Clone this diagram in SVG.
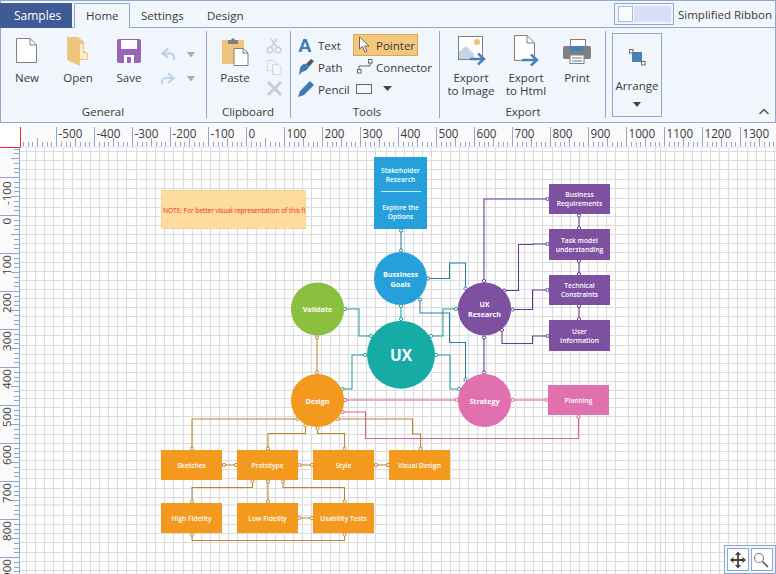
<svg xmlns="http://www.w3.org/2000/svg" width="776" height="574" viewBox="0 0 776 574">
<style>
text{font-family:"Open Sans","Noto Sans","Liberation Sans",sans-serif}
.rb{font-size:11.5px;fill:#3a3a3a}
.m{text-anchor:middle}
.rl{font-size:11.7px;fill:#3a3a3a}
.vl{font-size:11.6px;fill:#3a3a3a;font-family:"Liberation Sans",sans-serif}
.n{font-size:6.7px;fill:#fff;text-anchor:middle;font-weight:600}
.b{font-size:7.2px;fill:#fff;text-anchor:middle;font-weight:700}
.sep{stroke:#8fa6cf;stroke-width:1;fill:none}
.grid{stroke:#dcdcdc;stroke-width:1.2;fill:none}
.blue{fill:#26a0da}.purple{fill:#7d50a0}.pink{fill:#e070ae}.orange{fill:#f39a1e}
#connectors path{fill:none;stroke-width:1.05}
.cb{stroke:#2a7f9c}.ct{stroke:#1f9f9d}.cp{stroke:#67379a}.co{stroke:#bf8430}.cn{stroke:#d5609a}
.cb{marker-start:url(#mb);marker-end:url(#mb)}
.ct{marker-start:url(#mt);marker-end:url(#mt)}
.cp{marker-start:url(#mp);marker-end:url(#mp)}
.co{marker-start:url(#mo);marker-end:url(#mo)}
.cn{marker-start:url(#mn);marker-end:url(#mn)}
</style>
<defs>
<marker id="mb" markerUnits="userSpaceOnUse" markerWidth="6" markerHeight="6" refX="3" refY="3"><circle cx="3" cy="3" r="1.6" fill="#fff" stroke="#2a7f9c"/></marker>
<marker id="mt" markerUnits="userSpaceOnUse" markerWidth="6" markerHeight="6" refX="3" refY="3"><circle cx="3" cy="3" r="1.6" fill="#fff" stroke="#1f9f9d"/></marker>
<marker id="mp" markerUnits="userSpaceOnUse" markerWidth="6" markerHeight="6" refX="3" refY="3"><circle cx="3" cy="3" r="1.6" fill="#fff" stroke="#67379a"/></marker>
<marker id="mo" markerUnits="userSpaceOnUse" markerWidth="6" markerHeight="6" refX="3" refY="3"><circle cx="3" cy="3" r="1.6" fill="#fff" stroke="#bf8430"/></marker>
<marker id="mn" markerUnits="userSpaceOnUse" markerWidth="6" markerHeight="6" refX="3" refY="3"><circle cx="3" cy="3" r="1.6" fill="#fff" stroke="#d5609a"/></marker>
<pattern id="hticks" patternUnits="userSpaceOnUse" x="18" y="127" width="38" height="20">
<path d="M.5 0V20M5.5 15V20M10.5 15V20M14.5 15V20M19.5 11V20M24.5 15V20M29.5 15V20M33.5 15V20" stroke="#8fa6cf" fill="none"/>
</pattern>
<pattern id="vticks" patternUnits="userSpaceOnUse" x="0" y="25" width="20" height="38">
<path d="M0 .5H20M14 5.5H20M14 10.5H20M14 14.5H20M11 19.5H20M14 24.5H20M14 29.5H20M14 33.5H20" stroke="#8fa6cf" fill="none"/>
</pattern>
</defs>

<rect width="776" height="574" fill="#fff"/>

<g id="grid">
<path class="grid" d="M26.5 148V574M35.5 148V574M44.5 148V574M53.5 148V574M63.5 148V574M72.5 148V574M81.5 148V574M90.5 148V574M99.5 148V574M108.5 148V574M117.5 148V574M126.5 148V574M136.5 148V574M146.5 148V574M155.5 148V574M164.5 148V574M173.5 148V574M183.5 148V574M192.5 148V574M201.5 148V574M210.5 148V574M219.5 148V574M228.5 148V574M237.5 148V574M247.5 148V574M256.5 148V574M266.5 148V574M275.5 148V574M284.5 148V574M293.5 148V574M302.5 148V574M311.5 148V574M321.5 148V574M330.5 148V574M339.5 148V574M348.5 148V574M357.5 148V574M366.5 148V574M375.5 148V574M386.5 148V574M395.5 148V574M404.5 148V574M413.5 148V574M422.5 148V574M431.5 148V574M441.5 148V574M450.5 148V574M459.5 148V574M468.5 148V574M477.5 148V574M486.5 148V574M495.5 148V574M506.5 148V574M515.5 148V574M524.5 148V574M533.5 148V574M542.5 148V574M552.5 148V574M561.5 148V574M570.5 148V574M579.5 148V574M588.5 148V574M597.5 148V574M606.5 148V574M615.5 148V574M628.5 148V574M637.5 148V574M646.5 148V574M655.5 148V574M660.5 148V574M665.5 148V574M674.5 148V574M683.5 148V574M692.5 148V574M701.5 148V574M710.5 148V574M719.5 148V574M728.5 148V574M737.5 148V574M747.5 148V574M756.5 148V574M765.5 148V574M774.5 148V574"/>
<path class="grid" d="M20 151.5H776M20 160.5H776M20 169.5H776M20 179.5H776M20 188.5H776M20 198.5H776M20 207.5H776M20 216.5H776M20 225.5H776M20 234.5H776M20 243.5H776M20 252.5H776M20 262.5H776M20 271.5H776M20 280.5H776M20 289.5H776M20 298.5H776M20 307.5H776M20 316.5H776M20 326.5H776M20 335.5H776M20 345.5H776M20 354.5H776M20 363.5H776M20 372.5H776M20 381.5H776M20 390.5H776M20 398.5H776M20 407.5H776M20 416.5H776M20 425.5H776M20 434.5H776M20 443.5H776M20 451.5H776M20 460.5H776M20 469.5H776M20 478.5H776M20 488.5H776M20 497.5H776M20 505H776M20 515.5H776M20 524.5H776M20 533.5H776M20 542.5H776M20 552.5H776M20 561.5H776M20 570.5H776"/>
</g>

<g id="rulers">
<rect x="0" y="123" width="776" height="24" fill="#fafafa"/>
<rect x="0" y="123" width="20" height="24" fill="#fff"/>
<rect x="0" y="148" width="20" height="426" fill="#fafafa"/>
<rect x="21" y="127" width="755" height="20" fill="url(#hticks)"/>
<rect x="0" y="148" width="20" height="426" fill="url(#vticks)"/>
<path d="M21 147H776" stroke="#dde4f0"/>
<path d="M19.5 148V574" stroke="#8fa6cf"/>
<path d="M20.5 127V147.5H0" stroke="#f03030" fill="none"/>
<g class="rl">
<text x="58.5" y="138">-500</text><text x="96.5" y="138">-400</text><text x="134.5" y="138">-300</text><text x="172.5" y="138">-200</text><text x="210.5" y="138">-100</text><text x="248.5" y="138">0</text><text x="286.5" y="138">100</text><text x="324.5" y="138">200</text><text x="362.5" y="138">300</text><text x="400.5" y="138">400</text><text x="438.5" y="138">500</text><text x="476.5" y="138">600</text><text x="514.5" y="138">700</text><text x="552.5" y="138">800</text><text x="590.5" y="138">900</text><text x="628.5" y="138">1000</text><text x="666.5" y="138">1100</text><text x="704.5" y="138">1200</text><text x="742.5" y="138">1300</text>
</g>
<g class="vl">
<text transform="translate(10.5,205) rotate(-90)">-100</text>
<text transform="translate(10.5,224.5) rotate(-90)">0</text>
<text transform="translate(10.5,275) rotate(-90)">100</text>
<text transform="translate(10.5,313) rotate(-90)">200</text>
<text transform="translate(10.5,351) rotate(-90)">300</text>
<text transform="translate(10.5,389) rotate(-90)">400</text>
<text transform="translate(10.5,427) rotate(-90)">500</text>
<text transform="translate(10.5,465) rotate(-90)">600</text>
<text transform="translate(10.5,503) rotate(-90)">700</text>
<text transform="translate(10.5,541) rotate(-90)">800</text>
<text transform="translate(10.5,579) rotate(-90)">900</text>
</g>
</g>

<g id="connectors">
<path class="cb" d="M401 230.5V250.5"/>
<path class="cb" d="M428 278.5H449.5V263H465.5V288.5"/>
<path class="cb" d="M420 299.5V313H449.5V342.5H465.5V379.5"/>
<path class="ct" d="M401 306V319"/>
<path class="ct" d="M345 309H359V336H371"/>
<path class="ct" d="M431 336H443V309H456"/>
<path class="ct" d="M342.5 389H352V355H365"/>
<path class="ct" d="M436 355H450V389H459"/>
<path class="cp" d="M484 281V199H547.5"/>
<path class="cp" d="M504 290.5H518.5V244.5H533V244H547.5"/>
<path class="cp" d="M512.5 309.5H532.5V290H547.5"/>
<path class="cp" d="M502 330V343.5H532.5V336H547.5"/>
<path class="cp" d="M579 215.5V228"/>
<path class="cp" d="M579 261V274"/>
<path class="cp" d="M579 306V319"/>
<path class="cp" d="M484 337.5V372.5"/>
<path class="co" d="M317 337.5V372.5"/>
<path class="cn" d="M345 400H456.5"/>
<path class="cn" d="M512.5 400H546.5"/>
<path class="cn" d="M342.5 412H365.5V438.5H578.5V417"/>
<path class="co" d="M297.5 419H192V448.5"/>
<path class="co" d="M305.5 425.5V433.5H268V448.5"/>
<path class="co" d="M317.5 428.5V433.5H344.5V448.5"/>
<path class="co" d="M337.5 419H412.5V434H420.5V448.5"/>
<path class="co" d="M224 465H236"/>
<path class="co" d="M299.5 465H312"/>
<path class="co" d="M376 465H388"/>
<path class="co" d="M252.5 481.5V487.5H192V501.5"/>
<path class="co" d="M268 481.5V501.5"/>
<path class="co" d="M283 481.5V487.5H344.5V501.5"/>
<path class="co" d="M299.5 518H312"/>
<path class="co" d="M192 534.5V540.5H344.5V534.5"/>
</g>

<g id="note">
<rect x="161.5" y="190.5" width="144" height="38" fill="#fedb9e" stroke="#f5c878" stroke-dasharray="2 1"/>
<text x="163" y="213" font-size="6.7" fill="#f02828" textLength="142.5" lengthAdjust="spacing">NOTE: For better visual representation of this fi</text>
</g>

<g id="stakeholder">
<rect class="blue" x="374" y="157" width="53" height="72"/>
<path d="M381 191.5H421" stroke="#cfeaf7"/>
<text class="n" x="400.5" y="173">Stakeholder</text><text class="n" x="400.5" y="182">Research</text>
<text class="n" x="400.5" y="210">Explore the</text><text class="n" x="400.5" y="219">Options</text>
</g>
<g id="goals"><circle class="blue" cx="400.5" cy="278.5" r="26.5"/><text class="b" x="400.5" y="277">Bussiness</text><text class="b" x="400.5" y="287">Goals</text></g>
<g id="ux"><circle cx="401" cy="354.7" r="34" fill="#16aba5"/><text x="401" y="360.5" font-size="15.5" font-weight="700" fill="#fff" text-anchor="middle">UX</text></g>
<g id="validate"><circle cx="317.5" cy="309" r="26.6" fill="#8ac03e"/><text class="b" x="317.5" y="312">Validate</text></g>
<g id="uxresearch"><circle class="purple" cx="484.5" cy="309" r="26.6"/><text class="b" x="484.5" y="307">UX</text><text class="b" x="484.5" y="317">Research</text></g>
<g id="design"><circle class="orange" cx="317.5" cy="400.5" r="26.6"/><text class="b" x="317.5" y="403.5">Design</text></g>
<g id="strategy"><circle class="pink" cx="484.5" cy="400.5" r="26.6"/><text class="b" x="484.5" y="403.5">Strategy</text></g>
<g id="planning"><rect class="pink" x="548" y="385" width="61" height="30"/><text class="n" x="578.5" y="403">Planning</text></g>
<g id="business"><rect class="purple" x="549" y="184" width="61" height="30"/><text class="n" x="579.5" y="197">Business</text><text class="n" x="579.5" y="206">Requirements</text></g>
<g id="task"><rect class="purple" x="549" y="229" width="61" height="31"/><text class="n" x="579.5" y="243">Task model</text><text class="n" x="579.5" y="252">understanding</text></g>
<g id="technical"><rect class="purple" x="549" y="275" width="61" height="30"/><text class="n" x="579.5" y="288">Technical</text><text class="n" x="579.5" y="297">Constraints</text></g>
<g id="user"><rect class="purple" x="549" y="320" width="61" height="31"/><text class="n" x="579.5" y="334">User</text><text class="n" x="579.5" y="343">Information</text></g>
<g id="sketches"><rect class="orange" x="161" y="450" width="61" height="30"/><text class="n" x="191.5" y="467.5">Sketches</text></g>
<g id="prototype"><rect class="orange" x="237" y="450" width="61" height="30"/><text class="n" x="267.5" y="467.5">Prototype</text></g>
<g id="style"><rect class="orange" x="313" y="450" width="61" height="30"/><text class="n" x="343.5" y="467.5">Style</text></g>
<g id="visual"><rect class="orange" x="389" y="450" width="61" height="30"/><text class="n" x="419.5" y="467.5">Visual Design</text></g>
<g id="high"><rect class="orange" x="161" y="503" width="61" height="30"/><text class="n" x="191.5" y="520.5">High Fidelity</text></g>
<g id="low"><rect class="orange" x="237" y="503" width="61" height="30"/><text class="n" x="267.5" y="520.5">Low Fidelity</text></g>
<g id="usability"><rect class="orange" x="313" y="503" width="61" height="30"/><text class="n" x="343.5" y="520.5">Usability Tests</text></g>

<g id="ribbon">
<rect x="0" y="0" width="776" height="123" fill="#f1f5fc"/>
<path d="M0 .5H776M.5 0V122M775.5 0V122M0 122.5H776" class="sep"/>
<path d="M0 27.5H74.5V3.5H129.5V27.5H776" fill="#f1f5fc" stroke="#8fa6cf"/>
<rect x="0" y="3" width="72" height="25" fill="#3f5a94"/>
<text x="14" y="20" font-size="12" fill="#fff">Samples</text>
<text class="rb" x="86" y="20">Home</text><text class="rb" x="141" y="20">Settings</text><text class="rb" x="207" y="20">Design</text>
<path class="sep" d="M206.5 31V118M290.5 31V118M439.5 31V118M605.5 31V118"/>
<rect x="614.5" y="3.5" width="59" height="21" fill="#f1f5fc" stroke="#8fa6cf"/>
<rect x="618.5" y="6.5" width="14" height="15" fill="#f8fafe" stroke="#a8bbdc"/>
<rect x="634" y="6" width="37" height="16" fill="#d8e0f7"/>
<text class="rb" x="678" y="19">Simplified Ribbon</text>

<g class="rb">
<text class="m" x="27" y="82">New</text><text class="m" x="78" y="82">Open</text><text class="m" x="129" y="82">Save</text>
<text class="m" x="235" y="82">Paste</text>
<text x="318" y="50">Text</text><text x="318" y="72">Path</text><text x="318" y="94">Pencil</text>
<text class="m" x="471" y="82">Export</text><text class="m" x="471" y="95">to Image</text>
<text class="m" x="526" y="82">Export</text><text class="m" x="526" y="95">to Html</text>
<text class="m" x="577" y="82">Print</text>
<text class="m" x="637" y="90">Arrange</text>
<text class="m" x="103" y="116">General</text><text class="m" x="248" y="116">Clipboard</text><text class="m" x="367" y="116">Tools</text><text class="m" x="523" y="116">Export</text>
</g>

<path d="M16.5 38.5H30L36.5 45V62.5H16.5Z" fill="#fff" stroke="#808080"/><path d="M30 38.5V45H36.5" fill="none" stroke="#808080"/>
<path d="M67 37H78L84 42V51L88 53V60H80V66L67 60Z" fill="#efc47c"/><path d="M80 44H83V53H87V59H80Z" fill="#f8ecd2"/>
<rect x="117" y="39" width="24" height="24" rx="2" fill="#9a65b5"/><rect x="121" y="40" width="16" height="9" fill="#fff"/><rect x="124" y="55" width="10" height="8" fill="#fff"/><rect x="127" y="57" width="4" height="6" fill="#9a65b5"/>
<path d="M168 48.5L162.5 53.5L168 57.5M163 53.5H170Q175 54 174 60" fill="none" stroke="#bdd2e9" stroke-width="2.2"/>
<path d="M168 73.5L173.5 78L168 83M173 78H166Q161 78.5 162 84" fill="none" stroke="#bdd2e9" stroke-width="2.2"/>
<path d="M187 52H195L191 57.5ZM187 76H195L191 81.5Z" fill="#a6acb4"/>

<rect x="222" y="40" width="22" height="24" fill="#efc47c"/><path d="M228 44V40H231Q233 36 235 40H238V44Z" fill="#808080"/>
<path d="M234 48.5H243L248 53V65.5H234Z" fill="#fff" stroke="#808080"/><path d="M243 48.5V53H248" fill="none" stroke="#808080"/>
<g fill="none" stroke="#c3d3e6" stroke-width="1.6"><circle cx="270" cy="50" r="2.8"/><circle cx="278" cy="50" r="2.8"/><path d="M271 47L277 39M277 47L271 39"/></g>
<g fill="#f3f6fb" stroke="#ccd8e8"><path d="M267.5 60.5H274L276 62.5V70.5H267.5Z"/><path d="M272.5 64.5H278L281 67V74.5H272.5Z"/></g>
<path d="M268 82L281 95M281 82L268 95" stroke="#c8ccd2" stroke-width="3"/>

<text x="298" y="52" font-size="19" font-weight="700" fill="#3f7ab5" style="font-family:'Liberation Sans',sans-serif">A</text>
<path d="M300 68Q303 63 306 64L309 67Q307 71 302 72L299 75Z" fill="#3f7ab5"/><path d="M306 64L311 59L314 61L309 67Z" fill="#555"/>
<path d="M298 97L300 91L310 81L314 85L304 95Z" fill="#3f7ab5"/>
<rect x="353.5" y="34.5" width="64" height="21" fill="#f3c77e" stroke="#d9a94f"/>
<text class="rb" x="376" y="50">Pointer</text>
<path d="M359.5 37V49L362.5 46.5L365 52L367 51L364.5 46H369Z" fill="#fff" stroke="#666"/>
<text class="rb" x="376" y="72">Connector</text>
<path d="M359 69V66H370V63" fill="none" stroke="#666"/><rect x="368.5" y="59.5" width="3.5" height="3.5" fill="#fff" stroke="#666"/><rect x="357.5" y="69.5" width="3.5" height="3.5" fill="#fff" stroke="#666"/>
<rect x="356.5" y="84.5" width="15" height="9" fill="#f8f8f8" stroke="#666"/>
<path d="M383 86H392L387.5 91Z" fill="#444"/>

<rect x="458.5" y="36.5" width="24" height="23" fill="#fff" stroke="#808080"/>
<path d="M459 59V52L466 46L474 54V59Z" fill="#c5d5e8"/><circle cx="477" cy="42" r="3" fill="#f0c070"/>
<path d="M470 59H482M478 53.5L484 59L478 64.5" fill="none" stroke="#4a80b8" stroke-width="2.4"/>
<path d="M514.5 35.5H527L534.5 43V60.5H514.5Z" fill="#fff" stroke="#808080"/><path d="M527 35.5V43H534.5" fill="none" stroke="#808080"/>
<path d="M522 60H535M531 54.5L537 60L531 65.5" fill="none" stroke="#4a80b8" stroke-width="2.4"/>
<rect x="570.5" y="39.5" width="15" height="10" fill="#fff" stroke="#808080"/>
<rect x="563" y="46" width="28" height="13" rx="2" fill="#808080"/><rect x="570" y="46" width="14" height="5" fill="#4a80b8"/>
<rect x="570" y="55" width="14" height="8.5" fill="#fff" stroke="#808080"/><path d="M572 58H582M572 61H582" stroke="#4a80b8"/>

<rect x="612.5" y="33.5" width="49" height="83" fill="none" stroke="#8fa6cf"/>
<rect x="632" y="52" width="10" height="10" fill="#4a80b8"/>
<rect x="629.5" y="49.5" width="3.5" height="3.5" fill="#fff" stroke="#666"/><rect x="641.5" y="61.5" width="3.5" height="3.5" fill="#fff" stroke="#666"/>
<path d="M633 102H641L637 107Z" fill="#444"/>
<path d="M759.5 114L764 109.5L768.5 114" fill="none" stroke="#555" stroke-width="1.5"/>
</g>

<g id="pan-zoom">
<rect x="724.5" y="545.5" width="51" height="28" fill="#f1f5fc" stroke="#8fa6cf"/>
<rect x="727.5" y="548.5" width="21" height="22" fill="#fff" stroke="#8fa6cf"/>
<rect x="751.5" y="548.5" width="21" height="22" fill="#fff" stroke="#8fa6cf"/>
<path d="M738 553V567M731.5 560H744.5" stroke="#444" stroke-width="1.8"/>
<path d="M738 551.5L741 555H735ZM738 568.5L741 565H735ZM730 560L733.5 557V563ZM746 560L742.5 557V563Z" fill="#444"/>
<circle cx="759" cy="558" r="4.5" fill="none" stroke="#808080" stroke-width="1.2"/><path d="M762.5 561.5L768 567" stroke="#555" stroke-width="1.6"/>
</g>
</svg>
